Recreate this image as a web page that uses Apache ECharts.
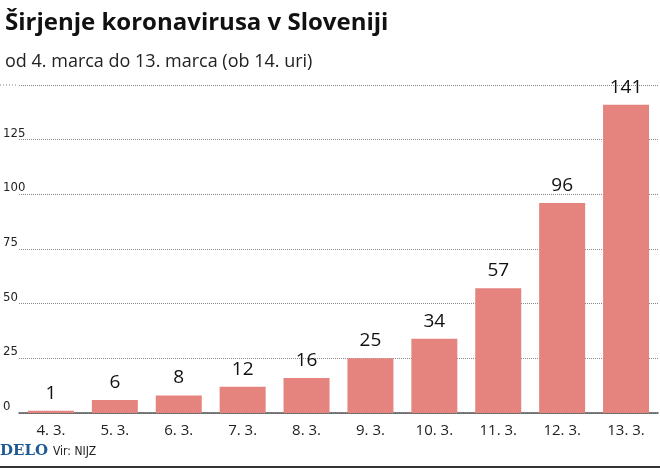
<!DOCTYPE html><html><head><meta charset="utf-8"><script src="https://cdn.jsdelivr.net/npm/echarts@6/dist/echarts.min.js"></script>
<style>body{margin:0}#c{width:660px;height:472px}</style></head><body><div id="c"></div><script>
const categories=['4. 3.','5. 3.','6. 3.','7. 3.','8. 3.','9. 3.','10. 3.','11. 3.','12. 3.','13. 3.'];
const values=[1,6,8,12,16,25,34,57,96,141];
const c=echarts.init(document.getElementById('c'));
c.setOption({animation:false,backgroundColor:'#fff',
title:[{text:'Širjenje koronavirusa v Sloveniji',left:0,top:6,textStyle:{fontFamily:'Open Sans',fontSize:24,fontWeight:'bold',color:'#111'}},
{text:'od 4. marca do 13. marca (ob 14. uri)',left:0,top:48,textStyle:{fontFamily:'Open Sans',fontSize:18,fontWeight:'normal',color:'#222'}}],
grid:{left:17,right:2,top:85,bottom:59},
xAxis:{type:'category',data:categories,axisLine:{lineStyle:{color:'#555',width:1.5}},axisTick:{show:false},axisLabel:{fontFamily:'Open Sans',fontSize:15,color:'#222',margin:10}},
yAxis:{type:'value',min:0,max:150,interval:25,axisLine:{show:false},axisTick:{show:false},
splitLine:{lineStyle:{type:'dotted',color:'#888'}},
axisLabel:{align:'left',margin:16,verticalAlign:'bottom',fontFamily:'DejaVu Sans Condensed',fontSize:13,color:'#222',formatter:v=>v===150?'':String(v)}},
series:[{type:'bar',data:values,barWidth:46,itemStyle:{color:'#e5837e'},label:{show:true,position:'top',distance:8,fontFamily:'Open Sans',fontSize:19,color:'#111'}}],
graphic:[{type:'text',left:0,top:444,style:{text:'DELO',font:'bold 15px "DejaVu Serif"',fill:'#1f5a91'}},
{type:'text',left:53,top:446,style:{text:'Vir: NIJZ',font:'12px "DejaVu Sans Condensed"',fill:'#222'}},
{type:'rect',shape:{x:0,y:466,width:660,height:2},style:{fill:'#333'}},
{type:'line',shape:{x1:0,y1:85,x2:17,y2:85},style:{stroke:'#888',lineDash:[1,2]}}]
});
</script></body></html>
